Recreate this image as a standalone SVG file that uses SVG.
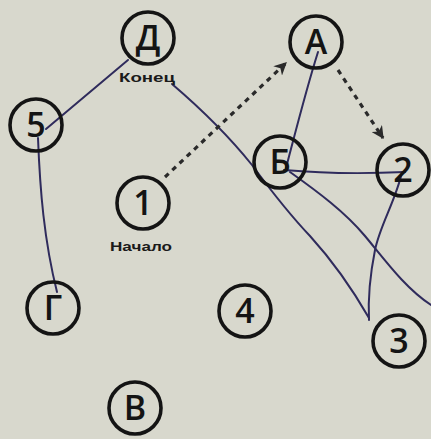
<svg xmlns="http://www.w3.org/2000/svg" width="431" height="439" viewBox="0 0 431 439">
<defs>
<style>
.bg{fill:#d8d8cd}
.node circle{fill:none;stroke:#141414;stroke-width:3.6}
.node text{font-family:"Open Sans","Liberation Sans",sans-serif;font-size:34px;font-weight:600;fill:#141414;text-anchor:middle}
.lbl{font-family:"Liberation Sans",sans-serif;font-size:12px;font-weight:bold;fill:#1a1a1a;text-anchor:middle}
.ink{fill:none;stroke:#2f2b5c;stroke-width:2;stroke-linecap:round;stroke-linejoin:round}
.dash{fill:none;stroke:#2a2a2a;stroke-width:3.2;stroke-dasharray:5 5}
</style>
<marker id="ah" viewBox="0 0 10 10" refX="9" refY="5" markerWidth="4" markerHeight="4" orient="auto" markerUnits="strokeWidth">
<path d="M0,0 L10,5 L0,10 L3,5 z" fill="#2a2a2a"/>
</marker>
</defs>
<rect class="bg" x="0" y="0" width="431" height="439"/>
<g id="connectors">
<path class="ink" d="M128,60 L46,129"/>
<path class="ink" d="M38,138 C 40,190 44,240 57,292"/>
<path class="ink" d="M172,84 C 200,108 232,140 252,165 C 272,192 290,215 310,236 C 330,258 350,285 369,318"/>
<path class="ink" d="M286,168 C 296,130 306,90 318,52"/>
<path class="ink" d="M284,170 Q 340,175 405,172"/>
<path class="ink" d="M290,172 C 318,192 345,212 365,236 C 385,260 405,288 431,305"/>
<path class="ink" d="M402,172 C 396,200 380,225 375,250 C 370,275 368,300 369,320"/>
<path class="dash" d="M165,177 L286,63" marker-end="url(#ah)"/>
<path class="dash" d="M338,70 L383,138" marker-end="url(#ah)"/>
</g>
<g id="node-D" class="node"><circle cx="148" cy="38" r="26"/><text x="148" y="50">Д</text></g>
<g id="node-A" class="node"><circle cx="316" cy="42" r="26"/><text x="316" y="54">А</text></g>
<g id="node-5" class="node"><circle cx="36" cy="125" r="26"/><text x="36" y="137">5</text></g>
<g id="node-B" class="node"><circle cx="280" cy="162" r="26"/><text x="280" y="174">Б</text></g>
<g id="node-2" class="node"><circle cx="403" cy="170" r="26"/><text x="403" y="182">2</text></g>
<g id="node-1" class="node"><circle cx="143" cy="203" r="26"/><text x="143" y="215">1</text></g>
<g id="node-G" class="node"><circle cx="53" cy="308" r="26"/><text x="53" y="320">Г</text></g>
<g id="node-4" class="node"><circle cx="245" cy="311" r="26"/><text x="245" y="323">4</text></g>
<g id="node-3" class="node"><circle cx="399" cy="341" r="26"/><text x="399" y="353">3</text></g>
<g id="node-V" class="node"><circle cx="135" cy="408" r="26"/><text x="135" y="420">В</text></g>
<text class="lbl" x="147" y="82" textLength="56" lengthAdjust="spacingAndGlyphs">Конец</text>
<text class="lbl" x="141" y="251" textLength="62" lengthAdjust="spacingAndGlyphs">Начало</text>
</svg>
